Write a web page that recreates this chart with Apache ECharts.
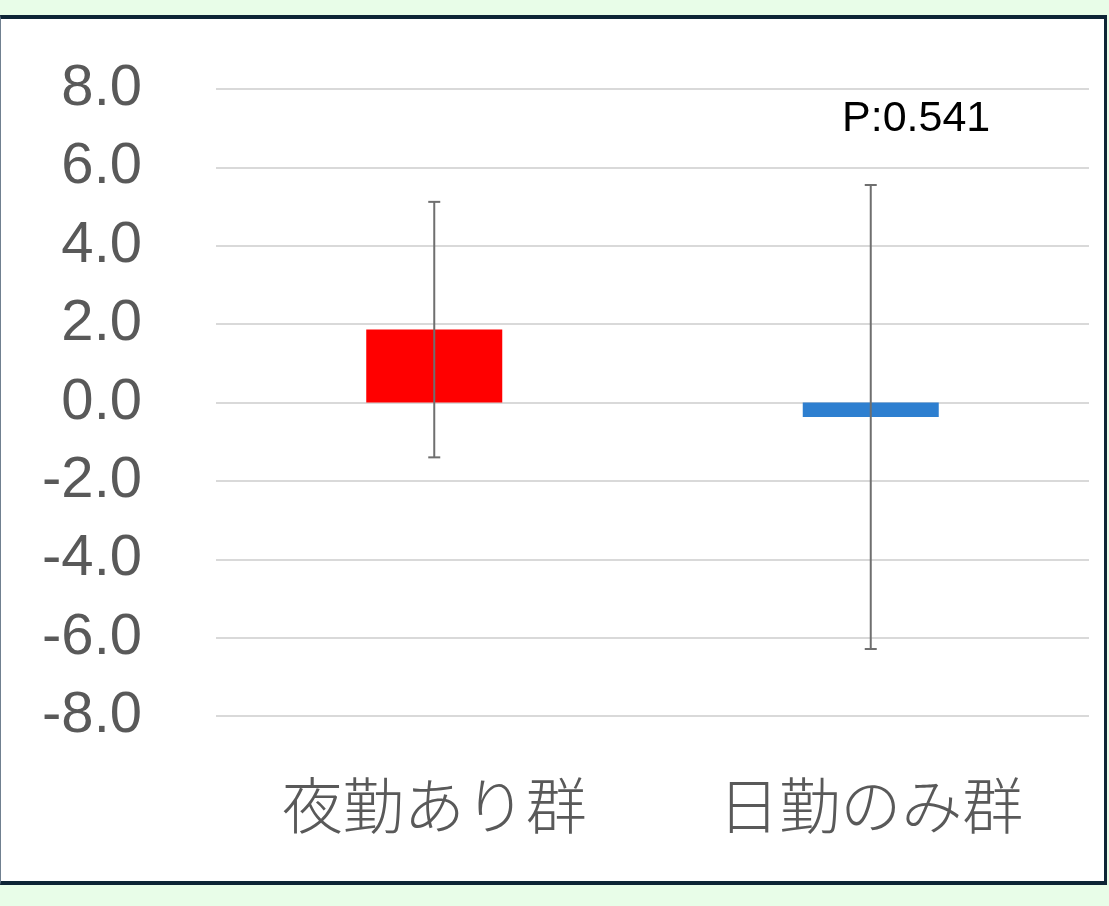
<!DOCTYPE html>
<html>
<head>
<meta charset="utf-8">
<script src="https://cdn.jsdelivr.net/npm/echarts@6/dist/echarts.min.js"></script>
<style>
  html, body { margin: 0; padding: 0; width: 1109px; height: 906px; background: #e8fde8; overflow: hidden; }
  #frame { position: absolute; left: 0; top: 15px; width: 1103px; height: 862px; background: #ffffff;
           border-top: 4px solid #0d2535; border-bottom: 4px solid #0d2535; border-right: 3px solid #0d2535; border-left: 1px solid #708090; box-sizing: content-box; }
  #chart { position: absolute; left: 0; top: 0; width: 1109px; height: 906px; }
</style>
</head>
<body>
<div id="frame"></div>
<div id="chart"></div>
<script>
const categories = ['夜勤あり群', '日勤のみ群'];
const means = [1.86, -0.37];
const errors = [3.26, 5.92];
const barColors = ['#ff0000', '#2e7fd0'];
const yTicks = { min: -8, max: 8, interval: 2 };
const pLabel = 'P:0.541';

const chart = echarts.init(document.getElementById('chart'), null, { renderer: 'canvas' });

const errorData = categories.map((c, i) => [i, means[i] - errors[i], means[i] + errors[i]]);

chart.setOption({
  backgroundColor: 'transparent',
  animation: false,
  grid: { left: 216, right: 20, top: 89, bottom: 190, containLabel: false },
  xAxis: {
    type: 'category',
    data: categories,
    position: 'bottom',
    axisLine: { show: false },
    axisTick: { show: false },
    axisLabel: {
      margin: 59,
      fontSize: 61,
      fontWeight: 300,
      fontFamily: 'Noto Sans CJK JP',
      color: '#595959'
    }
  },
  yAxis: {
    type: 'value',
    min: yTicks.min,
    max: yTicks.max,
    interval: yTicks.interval,
    axisLine: { show: false },
    axisTick: { show: false },
    splitLine: { lineStyle: { color: '#d9d9d9', width: 2 } },
    axisLabel: {
      margin: 74,
      fontSize: 58,
      fontFamily: 'Liberation Sans, Arial, sans-serif',
      color: '#595959',
      formatter: v => v.toFixed(1)
    }
  },
  series: [
    {
      type: 'bar',
      barWidth: 136,
      data: means.map((v, i) => ({ value: v, itemStyle: { color: barColors[i] } })),
      z: 2
    },
    {
      type: 'custom',
      z: 3,
      data: errorData,
      renderItem: function (params, api) {
        const x = api.value(0);
        const lo = api.coord([x, api.value(1)]);
        const hi = api.coord([x, api.value(2)]);
        const cap = 6;
        const style = { stroke: '#6f6f6f', lineWidth: 2, fill: null };
        return {
          type: 'group',
          children: [
            { type: 'line', shape: { x1: hi[0], y1: hi[1], x2: lo[0], y2: lo[1] }, style },
            { type: 'line', shape: { x1: hi[0] - cap, y1: hi[1], x2: hi[0] + cap, y2: hi[1] }, style },
            { type: 'line', shape: { x1: lo[0] - cap, y1: lo[1], x2: lo[0] + cap, y2: lo[1] }, style }
          ]
        };
      }
    }
  ],
  graphic: [
    {
      type: 'text',
      left: 842,
      top: 98,
      style: {
        text: pLabel,
        fontSize: 43,
        fontFamily: 'Liberation Sans, Arial, sans-serif',
        fill: '#000000'
      }
    }
  ]
});
</script>
</body>
</html>
